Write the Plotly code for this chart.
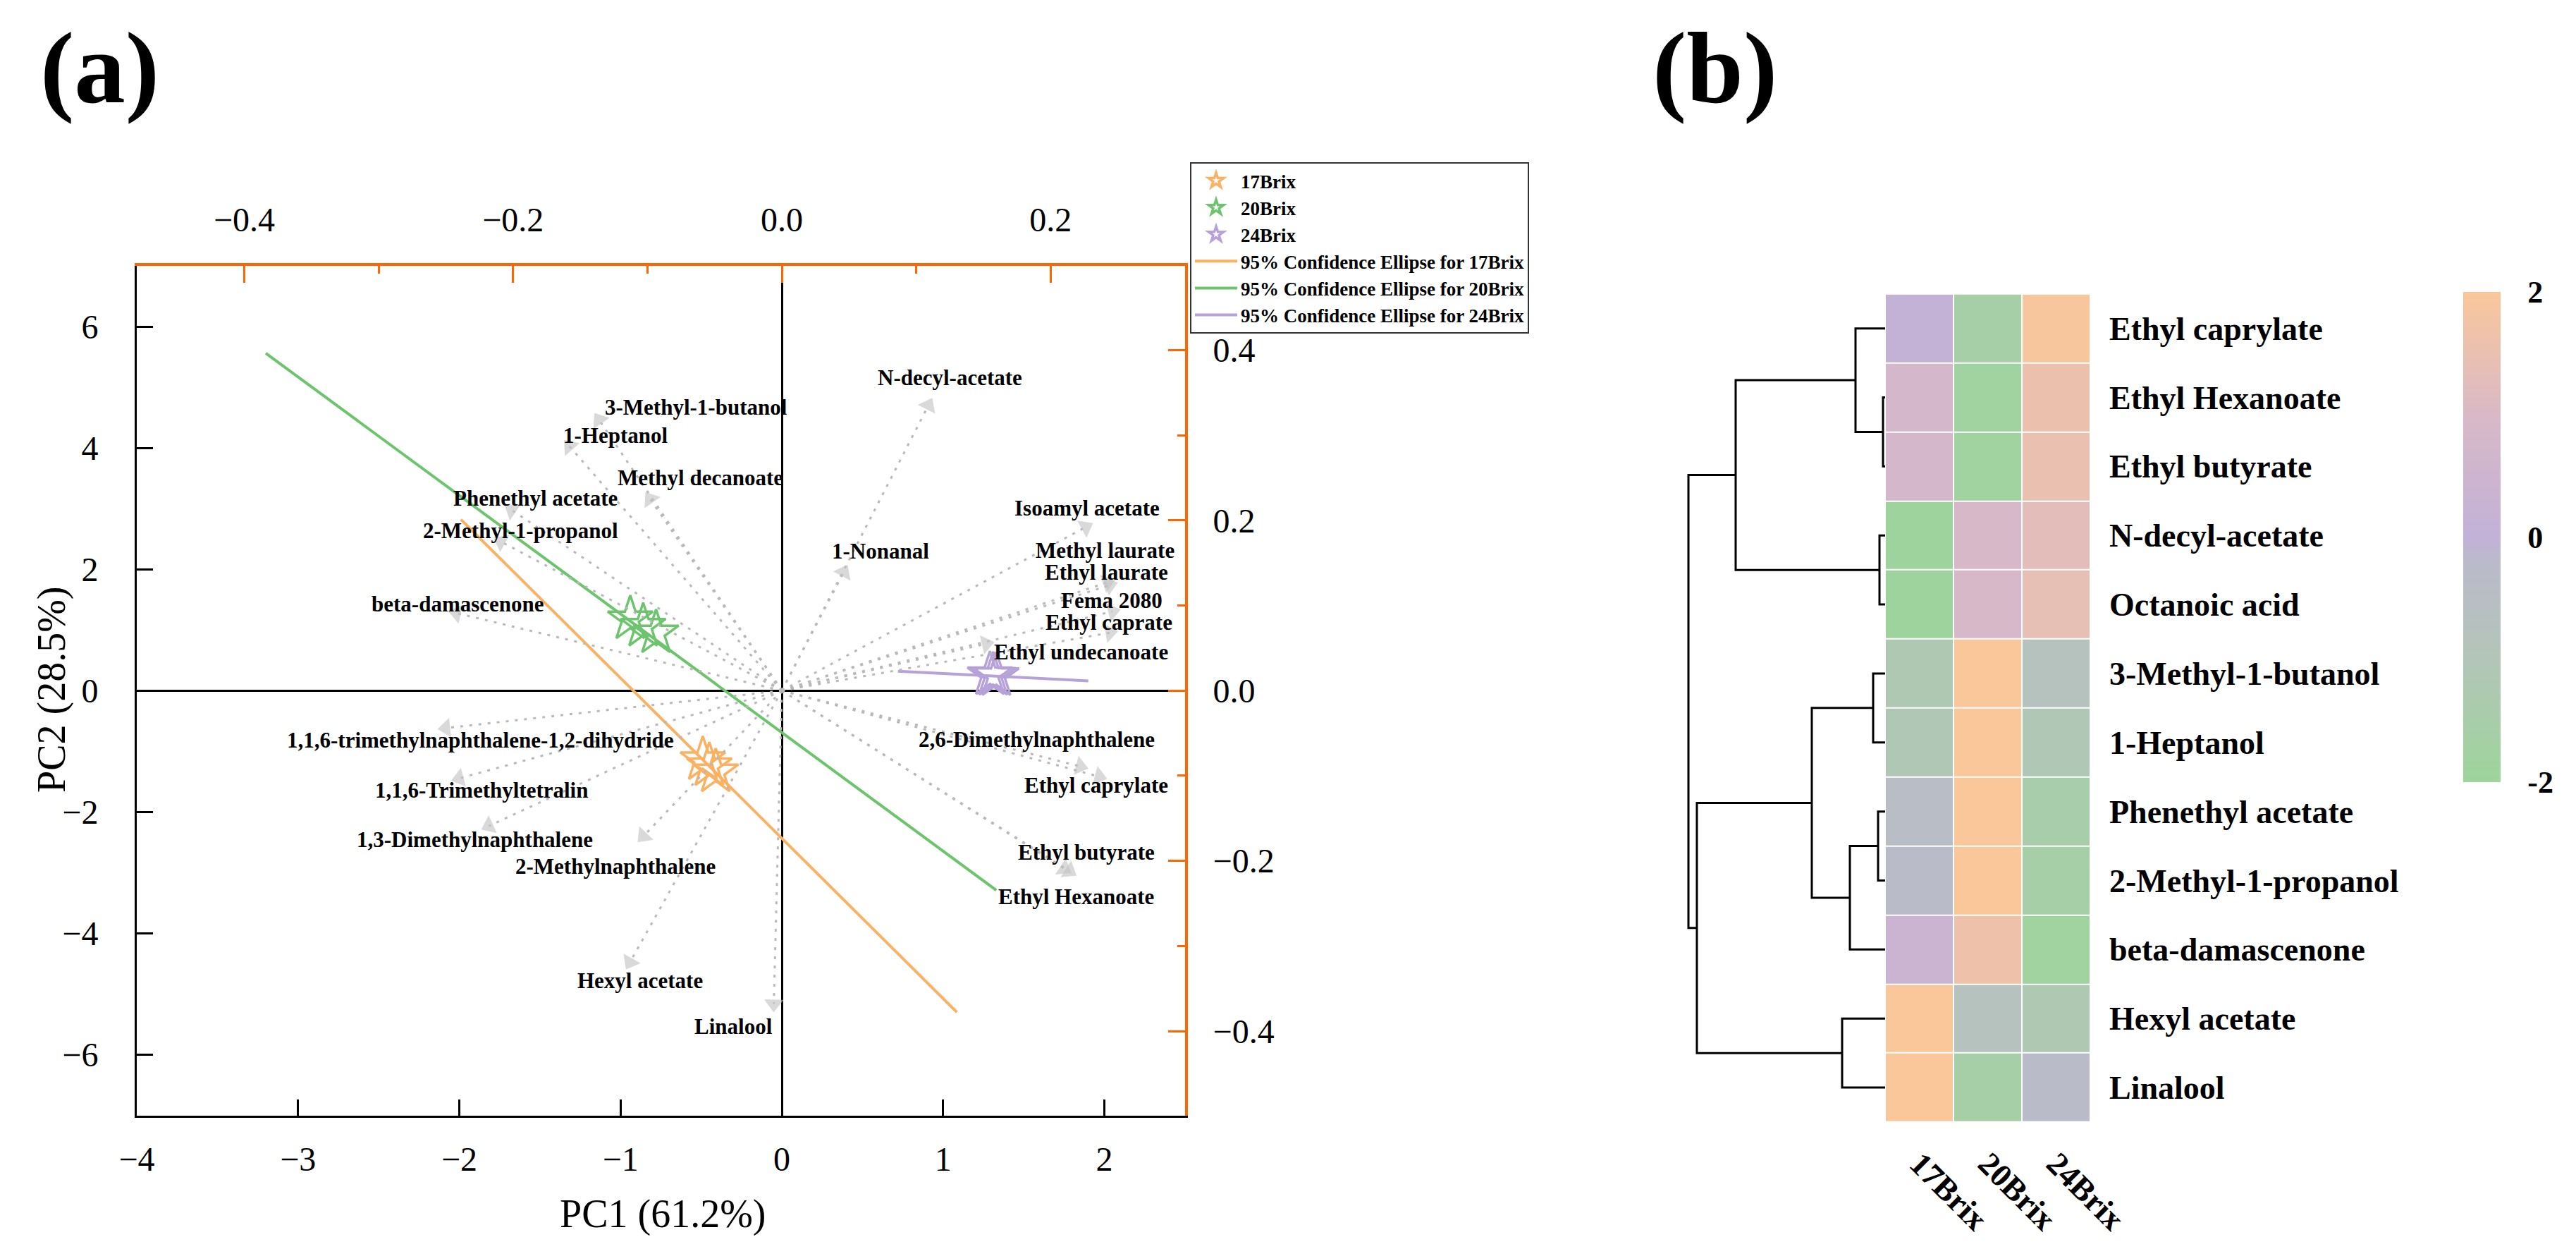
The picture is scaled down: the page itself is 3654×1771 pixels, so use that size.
import plotly.graph_objects as go

# ---------------- DATA ----------------
# (a) PCA biplot: sample scores (PC1, PC2), three replicates per group
groups = ["17Brix", "20Brix", "24Brix"]
pc1_17 = [-0.49, -0.45, -0.41]
pc2_17 = [-1.14, -1.24, -1.34]
pc1_20 = [-0.94, -0.86, -0.78]
pc2_20 = [1.18, 1.06, 0.95]
pc1_24 = [1.29, 1.31, 1.33]
pc2_24 = [0.26, 0.25, 0.245]

# 95% confidence "ellipses" (degenerate, drawn as segments) end points
ell_17_x = [-1.99, 1.085]
ell_17_y = [2.82, -5.30]
ell_20_x = [-3.20, 1.33]
ell_20_y = [5.56, -3.29]
ell_24_x = [0.72, 1.90]
ell_24_y = [0.32, 0.16]

# variable loadings (top / right axes units)
variables = ["3-Methyl-1-butanol", "1-Heptanol", "Methyl decanoate", "Phenethyl acetate",
             "2-Methyl-1-propanol", "beta-damascenone", "N-decyl-acetate", "1-Nonanal",
             "Isoamyl acetate", "Methyl laurate", "Ethyl laurate", "Fema 2080",
             "Ethyl caprate", "Ethyl undecanoate", "2,6-Dimethylnaphthalene", "Ethyl caprylate",
             "Ethyl butyrate", "Ethyl Hexanoate", "1,1,6-trimethylnaphthalene-1,2-dihydride",
             "1,1,6-Trimethyltetralin", "1,3-Dimethylnaphthalene", "2-Methylnaphthalene",
             "Hexyl acetate", "Linalool"]
load_pc1 = [-0.136, -0.158, -0.098, -0.201, -0.209, -0.242, 0.109, 0.046,
            0.226, 0.242, 0.244, 0.246, 0.244, 0.152, 0.222, 0.236,
            0.210, 0.214, -0.250, -0.240, -0.218, -0.103, -0.113, -0.006]
load_pc2 = [0.318, 0.287, 0.225, 0.212, 0.175, 0.091, 0.335, 0.139,
            0.192, 0.127, 0.124, 0.093, 0.068, 0.055, -0.089, -0.101,
            -0.209, -0.212, -0.044, -0.103, -0.159, -0.171, -0.319, -0.368]

# (b) heatmap
samples = ["17Brix", "20Brix", "24Brix"]
compounds = ["Ethyl caprylate", "Ethyl Hexanoate", "Ethyl butyrate", "N-decyl-acetate",
             "Octanoic acid", "3-Methyl-1-butanol", "1-Heptanol", "Phenethyl acetate",
             "2-Methyl-1-propanol", "beta-damascenone", "Hexyl acetate", "Linalool"]
z_17 = [0.1, 0.8, 0.8, -1.9, -1.9, -1.2, -1.1, -0.4, -0.3, 0.35, 2.0, 2.0]
z_20 = [-1.6, -1.85, -1.85, 0.9, 0.85, 2.0, 2.0, 2.0, 2.0, 1.65, -0.8, -1.6]
z_24 = [1.95, 1.55, 1.5, 1.3, 1.4, -0.8, -1.1, -1.5, -1.6, -1.85, -1.2, -0.3]

# dendrogram merges: (child_a, child_b, height); leaves are row indices 0..11
merges = [(1, 2, 3), (0, 12, 42), (3, 4, 8), (13, 14, 212),
          (5, 6, 17), (7, 8, 10), (17, 9, 50), (16, 18, 104),
          (10, 11, 61), (19, 20, 267), (15, 21, 279)]

# ---------------- STYLE / LAYOUT ----------------
W, H = 3654, 1771
SERIF = "Liberation Serif"
ORANGE_AX = "#ff6600"
C17, C20, C24 = "#fbb162", "#6cc46c", "#b6a2d8"
PC1_FACTOR = 8.333   # PC1 units per loading unit (axis scaling)
PC2_FACTOR = 14.03

def px_x(p):
    return p / W

def px_y(p):
    return 1 - p / H

# label anchor positions in PC1/PC2 coordinates (layout only)
label_pos = {
    "3-Methyl-1-butanol": (-0.53, 4.67), "1-Heptanol": (-1.03, 4.20),
    "Methyl decanoate": (-0.505, 3.51), "Phenethyl acetate": (-1.53, 3.17),
    "2-Methyl-1-propanol": (-1.62, 2.63), "beta-damascenone": (-2.01, 1.425),
    "N-decyl-acetate": (1.04, 5.16), "1-Nonanal": (0.61, 2.30),
    "Isoamyl acetate": (1.894, 3.01), "Methyl laurate": (2.003, 2.31),
    "Ethyl laurate": (2.014, 1.95), "Fema 2080": (2.047, 1.48),
    "Ethyl caprate": (2.027, 1.12), "Ethyl undecanoate": (1.855, 0.64),
    "2,6-Dimethylnaphthalene": (1.58, -0.80), "Ethyl caprylate": (1.95, -1.555),
    "Ethyl butyrate": (1.89, -2.66), "Ethyl Hexanoate": (1.824, -3.40),
    "1,1,6-trimethylnaphthalene-1,2-dihydride": (-1.87, -0.82),
    "1,1,6-Trimethyltetralin": (-1.863, -1.64), "1,3-Dimethylnaphthalene": (-1.904, -2.45),
    "2-Methylnaphthalene": (-1.033, -2.90), "Hexyl acetate": (-0.88, -4.78),
    "Linalool": (-0.30, -5.54),
}

fig = go.Figure()

# loading arrows (dotted line + triangle head) on loading axes
for name, lx, ly in zip(variables, load_pc1, load_pc2):
    fig.add_trace(go.Scatter(
        x=[0, lx], y=[0, ly], xaxis="x2", yaxis="y2", mode="lines+markers",
        line=dict(color="#b9b9b9", width=3, dash="4px,9px"),
        marker=dict(size=[0, 24], symbol="triangle-up", angleref="previous",
                    color="rgba(195,195,195,0.9)", line=dict(width=0)),
        showlegend=False, hoverinfo="skip"))

# ellipse segments
for gname, ex, ey, col, rank in [("17Brix", ell_17_x, ell_17_y, C17, 4),
                                 ("20Brix", ell_20_x, ell_20_y, C20, 5),
                                 ("24Brix", ell_24_x, ell_24_y, C24, 6)]:
    fig.add_trace(go.Scatter(
        x=ex, y=ey, mode="lines", line=dict(color=col, width=4),
        name="95% Confidence Ellipse for " + gname, legendrank=rank))

# sample scores
for gname, sx, sy, col, rank in [("17Brix", pc1_17, pc2_17, C17, 1),
                                 ("20Brix", pc1_20, pc2_20, C20, 2),
                                 ("24Brix", pc1_24, pc2_24, C24, 3)]:
    fig.add_trace(go.Scatter(
        x=sx, y=sy, mode="markers", name=gname, legendrank=rank,
        marker=dict(symbol="star-open", size=48, color=col, line=dict(width=3.5, color=col))))

# heatmap
fig.add_trace(go.Heatmap(
    z=[[a, b, c] for a, b, c in zip(z_17, z_20, z_24)],
    x=list(range(len(samples))), y=list(range(len(compounds))),
    xaxis="x4", yaxis="y4", zmin=-2, zmax=2, xgap=2, ygap=2,
    colorscale=[[0.0, "#9dd59b"], [0.25, "#b3c5b8"], [0.45, "#bbbacb"],
                [0.5, "#c2b1d8"], [0.75, "#d9b9c6"], [1.0, "#fac79b"]],
    colorbar=dict(x=px_x(3486), xanchor="left", thickness=53, thicknessmode="pixels",
                  len=695 / H, lenmode="fraction", y=px_y(753.5), yanchor="middle",
                  outlinewidth=0, xpad=0, ypad=0, tickvals=[-2, 0, 2], ticktext=["-2", "0", "2"],
                  ticks="outside", ticklen=30, tickcolor="rgba(0,0,0,0)",
                  tickfont=dict(family=SERIF, size=44, color="black", weight="bold")),
    showscale=True, hoverinfo="skip"))

# dendrogram
node_y = {i: i for i in range(len(compounds))}
node_h = {i: 0 for i in range(len(compounds))}
dx, dy = [], []
for k, (a, b, h) in enumerate(merges):
    nid = len(compounds) + k
    ya, yb = node_y[a], node_y[b]
    dx += [node_h[a], h, h, node_h[b], None]
    dy += [ya, ya, yb, yb, None]
    node_y[nid] = (ya + yb) / 2
    node_h[nid] = h
fig.add_trace(go.Scatter(x=dx, y=dy, xaxis="x3", yaxis="y3", mode="lines",
                         line=dict(color="black", width=3), showlegend=False, hoverinfo="skip"))

# ---------------- AXES ----------------
dom_ax = [px_x(186), px_x(1673)]
dom_ay = [px_y(1573.5), px_y(369)]
tickfont = dict(family=SERIF, size=48, color="black")

fig.update_layout(
    width=W, height=H, autosize=False, margin=dict(l=0, r=0, t=0, b=0, pad=0, autoexpand=False),
    paper_bgcolor="white", plot_bgcolor="white",
    xaxis=dict(domain=dom_ax, range=[-4, 2.5], dtick=1, tick0=0, ticks="inside", ticklen=23,
               tickwidth=3, tickcolor="black", showline=True, linecolor="black", linewidth=3,
               zeroline=True, zerolinecolor="black", zerolinewidth=3, showgrid=False,
               tickfont=tickfont, ticklabelstandoff=18, anchor="y", automargin=False),
    yaxis=dict(domain=dom_ay, range=[-7, 7], dtick=2, tick0=0, ticks="inside", ticklen=23,
               tickwidth=3, tickcolor="black", showline=True, linecolor="black", linewidth=3,
               zeroline=True, zerolinecolor="black", zerolinewidth=3, showgrid=False,
               tickfont=tickfont, ticklabelstandoff=42, anchor="x", automargin=False),
    xaxis2=dict(overlaying="x", side="top", anchor="y", range=[-4 / PC1_FACTOR, 2.5 / PC1_FACTOR],
                dtick=0.2, tick0=0, tickformat=".1f", ticks="inside", ticklen=24, tickwidth=3,
                tickcolor=ORANGE_AX, showline=True, linecolor=ORANGE_AX, linewidth=4,
                zeroline=False, showgrid=False, tickfont=tickfont, ticklabelstandoff=26,
                automargin=False,
                minor=dict(dtick=0.1, tick0=0, ticks="inside", ticklen=11, tickwidth=3,
                           tickcolor=ORANGE_AX, showgrid=False)),
    yaxis2=dict(overlaying="y", side="right", anchor="x", range=[-7 / PC2_FACTOR, 7 / PC2_FACTOR],
                dtick=0.2, tick0=0, tickformat=".1f", ticks="inside", ticklen=24, tickwidth=3,
                tickcolor=ORANGE_AX, showline=True, linecolor=ORANGE_AX, linewidth=4,
                zeroline=False, showgrid=False, tickfont=tickfont, ticklabelstandoff=26,
                automargin=False,
                minor=dict(dtick=0.1, tick0=0, ticks="inside", ticklen=11, tickwidth=3,
                           tickcolor=ORANGE_AX, showgrid=False)),
    xaxis3=dict(domain=[px_x(2383), px_x(2667)], range=[283, -1], visible=False, anchor="y3",
                automargin=False),
    yaxis3=dict(domain=[px_y(1583), px_y(408.7)], range=[11.5, -0.5], visible=False, anchor="x3",
                automargin=False),
    xaxis4=dict(domain=[px_x(2666), px_x(2957)], range=[-0.5, 2.5], anchor="y4",
                tickvals=list(range(len(samples))), ticktext=samples, tickangle=45,
                ticks="", showline=False, showgrid=False, zeroline=False, ticklabelstandoff=22,
                automargin=False,
                tickfont=dict(family=SERIF, size=46, color="black", weight="bold")),
    yaxis4=dict(domain=[px_y(1583), px_y(408.7)], range=[11.5, -0.5], anchor="x4", side="right",
                tickvals=list(range(len(compounds))), ticktext=compounds,
                ticks="", showline=False, showgrid=False, zeroline=False, ticklabelstandoff=26,
                automargin=False,
                tickfont=dict(family=SERIF, size=46, color="black", weight="bold")),
    legend=dict(x=px_x(1680), y=px_y(222), xanchor="left", yanchor="top",
                bgcolor="white", bordercolor="#333333", borderwidth=2,
                font=dict(family=SERIF, size=27, color="black", weight="bold"),
                tracegroupgap=0, itemwidth=60),
    showlegend=True,
)

annotations = []
for name in variables:
    lx, ly = label_pos[name]
    annotations.append(dict(x=lx, y=ly, xref="x", yref="y", text=name, showarrow=False,
                            xanchor="center", yanchor="middle",
                            font=dict(family=SERIF, size=31, color="black", weight="bold")))
annotations += [
    dict(x=px_x(133), y=px_y(88), xref="paper", yref="paper", text="(a)", showarrow=False,
         xanchor="center", yanchor="middle",
         font=dict(family=SERIF, size=145, color="black", weight="bold")),
    dict(x=px_x(2424), y=px_y(88), xref="paper", yref="paper", text="(b)", showarrow=False,
         xanchor="center", yanchor="middle",
         font=dict(family=SERIF, size=145, color="black", weight="bold")),
    dict(x=px_x(932), y=px_y(1713), xref="paper", yref="paper", text="PC1 (61.2%)",
         showarrow=False, xanchor="center", yanchor="middle",
         font=dict(family=SERIF, size=56, color="black")),
    dict(x=px_x(65), y=px_y(970), xref="paper", yref="paper", text="PC2 (28.5%)",
         showarrow=False, xanchor="center", yanchor="middle", textangle=-90,
         font=dict(family=SERIF, size=56, color="black")),
]
fig.update_layout(annotations=annotations)

# white separator across the colorbar at 0
fig.add_shape(type="line", xref="paper", yref="paper", x0=px_x(3484), x1=px_x(3541),
              y0=px_y(753.5), y1=px_y(753.5), line=dict(color="white", width=4), layer="above")

fig.write_html("out.html", config={"displayModeBar": False})
